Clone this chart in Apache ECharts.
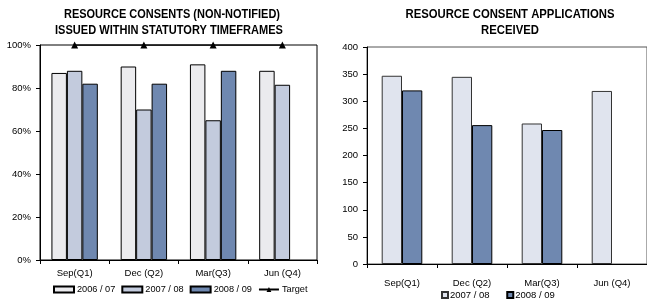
<!DOCTYPE html>
<html>
<head>
<meta charset="utf-8">
<script src="https://cdn.jsdelivr.net/npm/echarts@6/dist/echarts.min.js"></script>
<style>
  html, body { margin: 0; padding: 0; background: #fff; }
  #chart { width: 647px; height: 299px; }
</style>
</head>
<body>
<div id="chart"></div>
<script>
// left: consents issued within timeframes (%)
const quarters = ['Sep(Q1)', 'Dec (Q2)', 'Mar(Q3)', 'Jun (Q4)']
const issued0607 = [87, 90, 91, 88]
const issued0708 = [88, 70, 65, 81.5]
const issued0809 = [82, 82, 88, null]
const target = [100, 100, 100, 100]

// right: applications received
const recv0708 = [347, 345, 259, 319]
const recv0809 = [320, 256, 247, null]

const font = 'Liberation Sans, Arial, sans-serif'
const lbl = { color: '#000', fontSize: 9.5, fontFamily: font }
const blackLine = { lineStyle: { color: '#000', width: 1 } }

const chart = echarts.init(document.getElementById('chart'))

function barSeries(name, data, color, xi, gap, border) {
  return {
    name, type: 'bar', data, xAxisIndex: xi, yAxisIndex: xi,
    barGap: '0%', barCategoryGap: gap,
    itemStyle: { color, borderColor: border || '#000', borderWidth: 1 },
    emphasis: { disabled: true }
  }
}

// condensed bold title line, squeezed horizontally like the original
function titleLine(text, x, y, sx) {
  return {
    type: 'text', x, y, scaleX: sx,
    style: {
      text, fill: '#000', font: 'bold 13px ' + font,
      textAlign: 'center', textVerticalAlign: 'middle'
    }
  }
}

chart.setOption({
  animation: false,
  graphic: [
    titleLine('RESOURCE CONSENTS (NON-NOTIFIED)', 172, 14, 0.845),
    titleLine('ISSUED WITHIN STATUTORY TIMEFRAMES', 169, 30, 0.85),
    titleLine('RESOURCE CONSENT APPLICATIONS', 510, 14, 0.87),
    titleLine('RECEIVED', 510, 30, 0.87)
  ],
  legend: [
    {
      data: [
        { name: '2006 / 07', icon: 'rect' },
        { name: '2007 / 08', icon: 'rect' },
        { name: '2008 / 09', icon: 'rect' },
        'Target'
      ],
      left: 53, top: 285, padding: 0, itemWidth: 20, itemHeight: 6, itemGap: 6,
      textStyle: { ...lbl, fontSize: 9.2, padding: [0, 0, 0, -2] }
    },
    {
      data: [
        { name: '2007 / 08 ', icon: 'rect' },
        { name: '2008 / 09 ', icon: 'rect' }
      ],
      left: 441, top: 290, padding: 0, itemWidth: 6, itemHeight: 6, itemGap: 14,
      textStyle: { ...lbl, fontSize: 9.5, padding: [0, 0, 0, -3] }
    }
  ],
  grid: [
    { left: 40, top: 45, width: 277, height: 215, show: true, borderColor: '#000', borderWidth: 1 },
    { left: 367, top: 47, width: 283, height: 217, show: true, borderColor: '#555', borderWidth: 1 }
  ],
  xAxis: [0, 1].map(i => ({
    type: 'category', gridIndex: i, data: quarters,
    axisLine: blackLine,
    axisTick: { show: true, length: 4, lineStyle: { color: '#000' } },
    axisLabel: { ...lbl, margin: i ? 14 : 8 }
  })),
  yAxis: [
    {
      type: 'value', gridIndex: 0, min: 0, max: 100, interval: 20,
      axisLine: { show: true, ...blackLine },
      axisTick: { show: true, length: 4, lineStyle: { color: '#000' } },
      axisLabel: { ...lbl, formatter: '{value}%', margin: 9 },
      splitLine: { show: false }
    },
    {
      type: 'value', gridIndex: 1, min: 0, max: 400, interval: 50,
      axisLine: { show: true, ...blackLine },
      axisTick: { show: true, length: 4, lineStyle: { color: '#000' } },
      axisLabel: { ...lbl, margin: 9 },
      splitLine: { show: false }
    }
  ],
  series: [
    barSeries('2006 / 07', issued0607, '#ebebee', 0, '33%'),
    barSeries('2007 / 08', issued0708, '#c3cbdd', 0, '33%'),
    barSeries('2008 / 09', issued0809, '#6f88b0', 0, '33%'),
    {
      name: 'Target', type: 'line', data: target, xAxisIndex: 0, yAxisIndex: 0,
      symbol: 'triangle', symbolSize: 7, z: 5,
      lineStyle: { color: '#000', width: 1.5 },
      itemStyle: { color: '#000' },
      emphasis: { disabled: true }
    },
    barSeries('2007 / 08 ', recv0708, '#e0e4ee', 1, '42%', '#333'),
    barSeries('2008 / 09 ', recv0809, '#6f88b0', 1, '42%')
  ]
})
</script>
</body>
</html>
